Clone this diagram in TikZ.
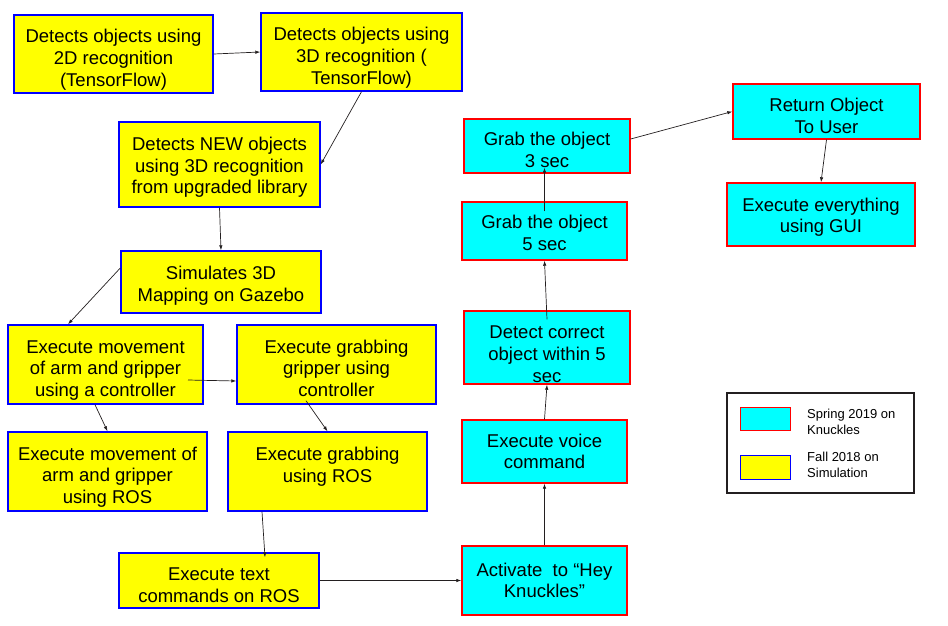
\documentclass[tikz,border=0pt]{standalone}
\usepackage{fontspec}
\setmainfont{Liberation Sans}
\usetikzlibrary{arrows.meta}
\definecolor{black}{cmyk}{0,0,0.0,1.0}
\definecolor{springcyan}{RGB}{0,255,255}
\definecolor{fallyellow}{RGB}{255,255,0}

\begin{document}
\begin{tikzpicture}[x=1pt,y=-1pt,
        fall/.style={draw=blue,fill=fallyellow,line width=1.4pt,inner sep=0pt,align=center,font=\fontsize{18.5}{21.7}\selectfont},
        spring/.style={draw=red,fill=springcyan,line width=1.4pt,inner sep=0pt,align=center,font=\fontsize{18.5}{21.7}\selectfont},
        drop/.style={text height=#1pt},
        arr/.style={-{Latex[length=5pt,width=3.5pt]},line width=0.7pt,black}]

        \useasboundingbox (0,0) rectangle (948,625);

        \node[fall,drop=68.1,minimum width=199pt,minimum height=78pt] (twod) at (113.5,54) {Detects objects using\\2D recognition\\(TensorFlow)};
        \node[fall,drop=68.1,minimum width=201pt,minimum height=78pt] (threed) at (361.5,52) {Detects objects using\\3D recognition (\\TensorFlow)};
        \node[fall,drop=62.5,minimum width=201pt,minimum height=85pt] (newobj) at (219.5,164.5) {Detects NEW objects\\using 3D recognition\\from upgraded library};
        \node[fall,drop=42.4,minimum width=200pt,minimum height=62pt] (sim) at (221,282) {Simulates 3D\\Mapping on Gazebo};
        \node[fall,drop=68.1,minimum width=195pt,minimum height=79pt] (movctl) at (105.5,364.5) {Execute movement\\of arm and gripper\\using a controller};
        \node[fall,drop=64.3,minimum width=199pt,minimum height=79pt] (grabctl) at (336.5,364.5) {Execute grabbing\\gripper using\\controller};
        \node[fall,drop=68.1,minimum width=199pt,minimum height=79pt] (movros) at (107.5,471.5) {Execute movement of\\arm and gripper\\using ROS};
        \node[fall,drop=64.7,minimum width=199pt,minimum height=79pt] (grabros) at (327.5,471.5) {Execute grabbing\\using ROS\\\mbox{}};
        \node[fall,drop=44,minimum width=200pt,minimum height=55pt] (textcmd) at (219,580.5) {Execute text\\commands on ROS};

        \node[spring,minimum width=165pt,minimum height=69pt] (activate) at (544.5,580.5) {Activate\ \ to “Hey\\Knuckles”};
        \node[spring,drop=35,minimum width=165pt,minimum height=63pt] (voice) at (544.5,451.5) {Execute voice\\command};
        \node[spring,drop=69.9,minimum width=166pt,minimum height=73pt] (detect) at (547,347.5) {Detect correct\\object within 5\\sec};
        \node[spring,drop=38.6,minimum width=165pt,minimum height=58pt] (grabfive) at (544.5,231) {Grab the object\\5 sec};
        \node[spring,drop=42.6,minimum width=166pt,minimum height=54pt] (grabthree) at (547,146) {Grab the object\\3 sec};
        \node[spring,drop=43.2,minimum width=187pt,minimum height=55pt] (retobj) at (826.5,111.5) {Return Object\\To User};
        \node[spring,drop=40.4,minimum width=188pt,minimum height=63pt] (gui) at (821,214.5) {Execute everything\\using GUI};

        % legend
        \node[draw=black,line width=2pt,minimum width=187pt,minimum height=100pt] (legend) at (820.5,443) {};
        \node[spring,line width=1pt,minimum width=50pt,minimum height=23pt] (keyspring) at (765,418.5) {};
        \node[fall,line width=1pt,minimum width=50pt,minimum height=24pt] (keyfall) at (765,467) {};
        \foreach \n/\y/\t in {labspring/422/{Spring 2019 on\\Knuckles},labfall/465/{Fall 2018 on\\Simulation}}
            \node[anchor=west,align=left,inner sep=0pt,font=\fontsize{13}{15.6}\selectfont] (\n) at (807,\y) {\t};

        \draw[arr] (twod.east) -- (threed.west);
        \draw[arr] (threed.south) -- (newobj.east);
        \draw[arr] (newobj.south) -- (sim.north);
        \draw[arr] ([yshift=14pt]sim.west) -- ([xshift=-37.5pt]movctl.north);
        \draw[arr] ([xshift=82.5pt,yshift=-15.5pt]movctl.center) -- ([yshift=-16.5pt]grabctl.west);
        \draw[arr] ([xshift=-10.5pt]movctl.south) -- (movros.north);
        \draw[arr] ([xshift=-30.5pt,yshift=4pt]grabctl.south) -- (grabros.north);
        \draw[arr] ([xshift=-65.5pt]grabros.south) -- ([xshift=46pt,yshift=-5pt]textcmd.north);
        \draw[arr] (textcmd.east) -- (activate.west);
        \draw[arr] (activate.north) -- (voice.south);
        \draw[arr] (voice.north) -- (detect.south);
        \draw[arr] ([yshift=-9pt]detect.north) -- (grabfive.south);
        \draw[arr] ([yshift=-10pt]grabfive.north) -- ([xshift=-2.5pt,yshift=6pt]grabthree.south);
        \draw[arr] ([yshift=7pt]grabthree.east) -- (retobj.west);
        \draw[arr] (retobj.south) -- (gui.north);

      \end{tikzpicture}
\end{document}
